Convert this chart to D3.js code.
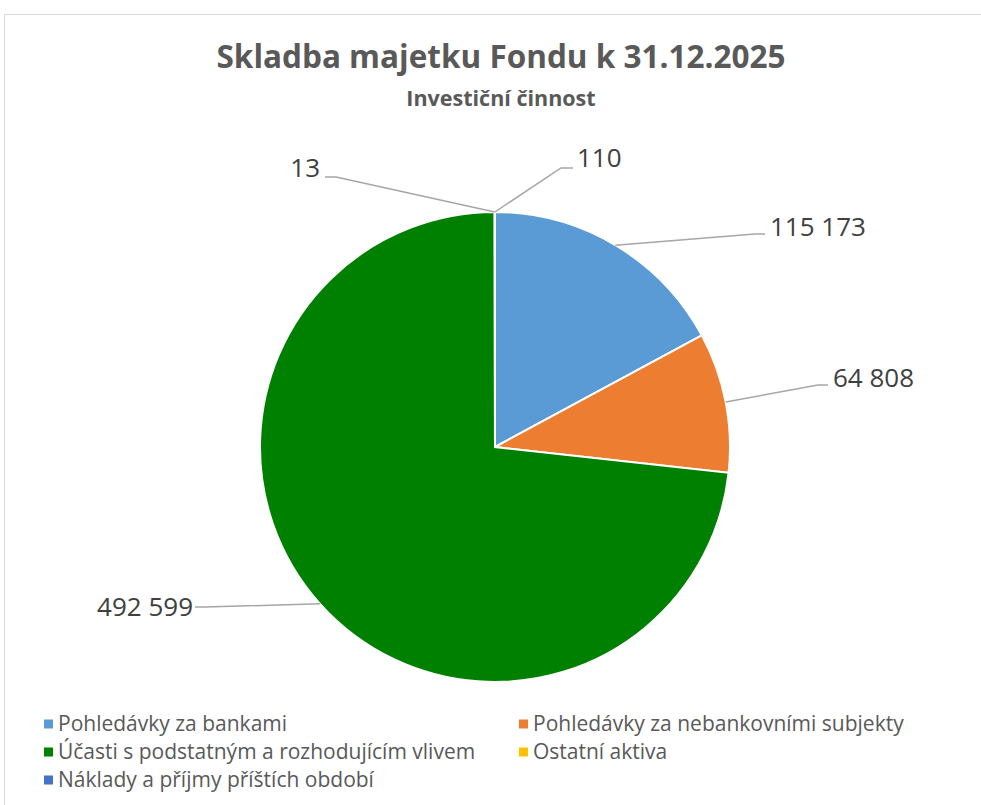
<!DOCTYPE html>
<html>
<head>
<meta charset="utf-8">
<script src="https://cdn.jsdelivr.net/npm/d3@7"></script>
<style>
  body { margin: 0; background: #fff; }
  svg text { font-family: "Open Sans", "Liberation Sans", sans-serif; }
</style>
</head>
<body>
<div id="chart"></div>
<script>
// chart data
var categories = [
    "Pohledávky za bankami",
    "Pohledávky za nebankovními subjekty",
    "Účasti s podstatným a rozhodujícím vlivem",
    "Ostatní aktiva",
    "Náklady a příjmy příštích období"
];
var values = [115173, 64808, 492599, 13, 110];
var valueLabels = ["115 173", "64 808", "492 599", "13", "110"];
var colors = ["#5B9BD5", "#ED7D31", "#008000", "#FFC000", "#4472C4"];

var title = "Skladba majetku Fondu k 31.12.2025";
var subtitle = "Investiční činnost";

function createPie() {
    var w = 981;
    var h = 805;
    var cx = 495, cy = 447, r = 235;

    var svg = d3.select("#chart")
        .append("svg")
        .attr("width", w)
        .attr("height", h);

    // chart frame
    svg.append("rect")
        .attr("x", 4.5)
        .attr("y", 14.5)
        .attr("width", w + 10)
        .attr("height", h + 10)
        .attr("fill", "#fff")
        .attr("stroke", "#d9d9d9")
        .attr("stroke-width", 1);

    svg.append("text")
        .attr("x", 501)
        .attr("y", 68)
        .attr("text-anchor", "middle")
        .attr("font-size", "31.5px")
        .attr("font-weight", "bold")
        .attr("fill", "#595959")
        .text(title);

    svg.append("text")
        .attr("x", 501)
        .attr("y", 106)
        .attr("text-anchor", "middle")
        .attr("font-size", "21.5px")
        .attr("font-weight", "bold")
        .attr("fill", "#595959")
        .text(subtitle);

    var data = categories.map(function(c, i) {
        return { name: c, value: values[i], label: valueLabels[i], color: colors[i] };
    });

    var pie = d3.pie()
        .sort(null)
        .value(function(d) { return d.value; });

    var arc = d3.arc()
        .innerRadius(0)
        .outerRadius(r);

    var arcs = pie(data);

    var g = svg.append("g")
        .attr("transform", "translate(" + cx + "," + cy + ")");

    g.selectAll("path")
        .data(arcs)
        .enter()
        .append("path")
        .attr("d", arc)
        .attr("fill", function(d) { return d.data.color; })
        .attr("stroke", "#fff")
        .attr("stroke-width", 2);

    // label layout: elbow point, tail end, text position (relative to centre)
    var labelLayout = [
        { elbow: [260, -213], tail: [270, -213], tx: 275, ty: -220, anchor: "start" },
        { elbow: [323, -62], tail: [333, -62], tx: 338, ty: -69, anchor: "start" },
        { elbow: [-290, 160], tail: [-300, 160], tx: -302, ty: 160, anchor: "end" },
        { elbow: [-159, -270], tail: [-170, -270], tx: -175, ty: -279, anchor: "end" },
        { elbow: [66, -279], tail: [78, -279], tx: 82, ty: -289, anchor: "start" }
    ];

    var labels = g.selectAll(".lbl")
        .data(arcs)
        .enter()
        .append("g")
        .attr("class", "lbl");

    labels.append("polyline")
        .attr("points", function(d, i) {
            var a = (d.startAngle + d.endAngle) / 2;
            var p = [Math.sin(a) * r, -Math.cos(a) * r];
            var L = labelLayout[i];
            return [p, L.elbow, L.tail].map(function(q) { return q.join(","); }).join(" ");
        })
        .attr("fill", "none")
        .attr("stroke", "#a6a6a6")
        .attr("stroke-width", 1.5);

    labels.append("text")
        .attr("x", function(d, i) { return labelLayout[i].tx; })
        .attr("y", function(d, i) { return labelLayout[i].ty; })
        .attr("dy", "0.35em")
        .attr("text-anchor", function(d, i) { return labelLayout[i].anchor; })
        .attr("font-size", "26px")
        .attr("fill", "#404040")
        .text(function(d) { return d.data.label; });

    // legend, two columns
    var legend = svg.selectAll(".leg")
        .data(data)
        .enter()
        .append("g")
        .attr("class", "leg")
        .attr("transform", function(d, i) {
            var x = (i % 2 === 0) ? 44 : 519;
            var y = 724 + Math.floor(i / 2) * 28;
            return "translate(" + x + "," + y + ")";
        });

    legend.append("rect")
        .attr("x", 0)
        .attr("y", -4.5)
        .attr("width", 9)
        .attr("height", 9)
        .attr("fill", function(d) { return d.color; });

    legend.append("text")
        .attr("x", 14)
        .attr("y", 0)
        .attr("dy", "0.35em")
        .attr("font-size", "21px")
        .attr("fill", "#595959")
        .text(function(d) { return d.name; });
}

createPie();
</script>
</body>
</html>
